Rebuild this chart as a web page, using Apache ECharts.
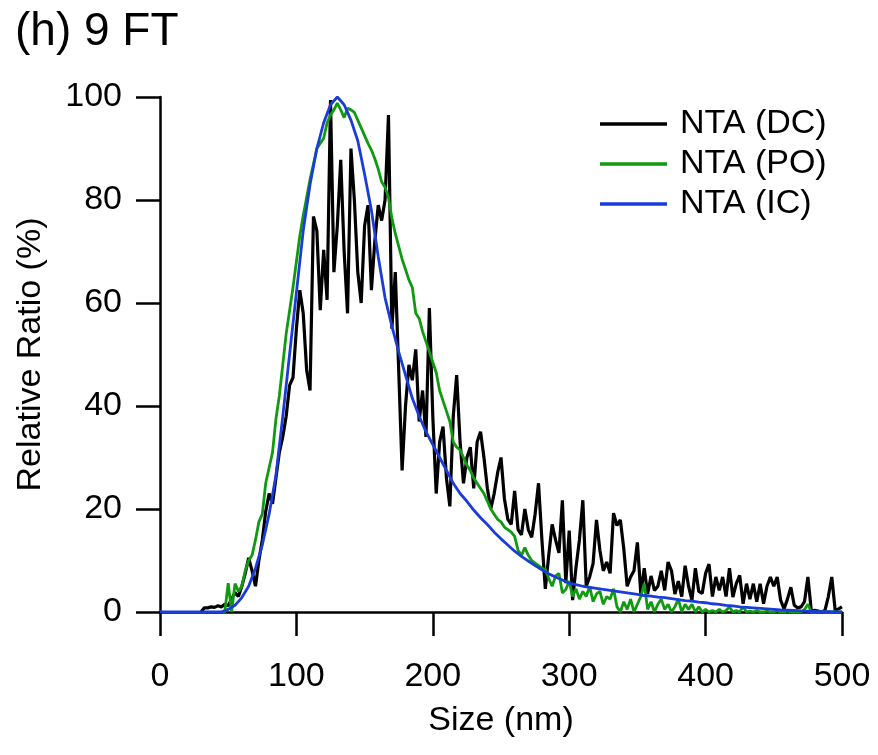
<!DOCTYPE html>
<html>
<head>
<meta charset="utf-8">
<script src="https://cdn.jsdelivr.net/npm/echarts@6/dist/echarts.min.js"></script>
<style>
  html, body { margin: 0; padding: 0; background: #fff; }
  #chart { width: 878px; height: 755px; }
</style>
</head>
<body>
<div id="chart"></div>
<script>
// x ticks / y ticks
const xTicks = [0, 100, 200, 300, 400, 500];
const yTicks = [0, 20, 40, 60, 80, 100];

// NTA (DC): bins of 2.5 nm starting at 30 nm
const dcStart = 30, dcStep = 2.5;
const dcValues = [
  0, 0.8, 0.8, 1.0, 0.9, 1.2, 1.0, 1.5, 1.2, 2.5,          // 30
  3.8, 3.0, 5.0, 7.5, 10.5, 8.0, 5.0, 10.0, 14.0, 19.5,    // 55
  23.0, 21.0, 26.0, 31.0, 34.0, 38.0, 44.0, 45.5, 55.0, 62.5, // 80
  58.0, 47.0, 43.0, 76.8, 74.0, 58.6, 70.3, 60.6, 99.4, 66.0, // 105
  75.0, 87.8, 70.0, 58.0, 90.0, 80.0, 66.0, 60.0, 75.0, 79.0, // 130
  62.5, 72.0, 79.0, 76.0, 80.0, 96.5, 55.0, 66.0, 47.0, 27.5, // 155
  40.0, 48.0, 45.0, 51.0, 37.0, 43.0, 34.0, 59.0, 38.0, 23.0, // 180
  33.0, 36.0, 26.0, 20.5, 38.0, 46.0, 33.0, 25.0, 30.0, 32.0, // 205
  24.0, 33.0, 35.0, 30.0, 24.0, 20.0, 23.0, 27.0, 30.0, 22.0, // 230
  18.0, 17.0, 23.5, 16.0, 15.0, 20.0, 16.0, 14.5, 19.0, 25.0, // 255
  14.0, 4.5, 11.0, 17.0, 14.0, 11.5, 21.7, 5.6, 15.8, 2.3,    // 280
  8.7, 14.0, 21.7, 5.0, 6.8, 9.4, 17.9, 12.0, 8.0, 9.7,       // 305
  7.5, 19.2, 16.8, 17.9, 12.3, 5.0, 6.8, 8.0, 13.5, 3.5,      // 330
  8.5, 3.5, 7.0, 4.2, 5.0, 8.0, 4.2, 9.7, 8.0, 3.5,           // 355
  6.0, 3.0, 9.0, 5.0, 2.3, 8.5, 4.0, 3.6, 7.5, 9.3,           // 380
  3.0, 6.8, 4.2, 6.8, 3.0, 8.5, 2.9, 5.5, 7.1, 1.6,           // 405
  5.5, 2.5, 5.5, 2.0, 5.5, 1.6, 5.0, 6.8, 5.0, 6.8,           // 430
  2.3, 0.6, 2.5, 4.8, 1.3, 0.8, 1.0, 2.0, 6.8, 0.2,           // 455
  0.3, 0.2, 0, 0.3, 3.0, 6.8, 0.3, 0.6, 1.0                   // 480
];

// NTA (PO): bins of 2.5 nm starting at 45 nm
const poStart = 45, poStep = 2.5;
const poValues = [
  0, 0, 5.6, 0, 5.5, 4, 5, 8, 10, 11,                       // 45
  14, 17.5, 19, 25, 28, 31, 37.5, 42, 48, 54,               // 70
  58.5, 63, 68, 73, 77, 80.5, 84, 87, 90, 91,               // 95
  92, 95, 96.5, 97.5, 98.8, 97.5, 96, 97.8, 97.5, 97,       // 120
  95.5, 94, 92.5, 91, 89.7, 88, 86, 83.5, 82.5, 80.5,       // 145
  76.5, 73.5, 71, 68.5, 66.5, 64.5, 63, 58, 57, 54.5,       // 170
  52.5, 50.5, 48.5, 46.5, 43, 41, 39, 37, 33, 32,           // 195
  31.5, 30, 28.5, 27.5, 26, 25, 24, 23, 21.5, 20,           // 220
  19, 18, 17.5, 16.5, 16, 15.5, 14.7, 12, 11, 12.5,         // 245
  11, 10, 9.5, 9, 8.5, 8.3, 6.5, 5, 7, 7.5,                 // 270
  3.7, 4.4, 6, 3, 4.5, 2.5, 4, 3, 5, 2,                     // 295
  3.5, 4, 1.5, 3, 2.5, 4.5, 1, 0, 2, 0.5,                   // 320
  2.5, 0, 1.5, 3, 5.5, 0.5, 2, 0, 1.5, 2.5,                 // 345
  0.5, 1.5, 0, 1, 2.5, 0, 1.5, 0.5, 1.5, 0,                 // 370
  1, 0, 0.5, 0, 0.3, 0, 0.5, 0, 0.3, 1,                     // 395
  0, 0.3, 0, 1, 0, 0.2, 0, 0.3, 0, 0,                       // 420
  0.2, 0, 0, 0.3, 0, 0, 0.2, 0, 0, 0,                       // 445
  0, 0.5, 1.5, 0, 0, 0, 0, 0, 0, 0,                         // 470
  0, 0, 0                                                   // 495
];

// NTA (IC): 5 nm steps starting at 0 nm
const icStart = 0, icStep = 5;
const icValues = [
  0, 0, 0, 0, 0, 0, 0, 0, 0, 0,                             // 0
  0.5, 1.3, 2.8, 5, 8.5, 13, 19, 26.5, 38, 50,              // 50
  62, 74, 83, 90, 95, 98.5, 100, 98.5, 95.5, 91.5,          // 100
  85, 78, 69, 61, 55.5, 50.5, 46, 41.5, 38, 35,             // 150
  32.5, 30, 27.5, 25, 23, 21.5, 19.8, 18.3, 17, 15.5,       // 200
  14.2, 13, 11.8, 10.8, 9.9, 9, 8.2, 7.4, 6.8, 6.2,         // 250
  5.6, 5.3, 5, 4.8, 4.6, 4.4, 4.2, 4, 3.8, 3.6,             // 300
  3.4, 3.2, 3.1, 2.9, 2.8, 2.6, 2.4, 2.2, 2.1, 1.9,         // 350
  1.8, 1.6, 1.5, 1.3, 1.2, 1.0, 0.9, 0.8, 0.7, 0.6,         // 400
  0.5, 0.4, 0.35, 0.3, 0.2, 0.15, 0.1, 0.05, 0.05, 0,       // 450
  0                                                         // 500
];

const seriesNames = ['NTA (DC)', 'NTA (PO)', 'NTA (IC)'];
const seriesColors = ['#000000', '#109a10', '#1a3cd8'];
const seriesWidths = [3.2, 2.8, 2.8];

function toPairs(start, step, values) {
  return values.map((v, i) => [start + i * step, v]);
}

const font = "'Liberation Sans', Arial, sans-serif";
const chart = echarts.init(document.getElementById('chart'));

const axisCommon = {
  axisLine: { show: true, lineStyle: { color: '#000', width: 2.5 } },
  axisTick: { show: true, inside: false, length: 24, lineStyle: { color: '#000', width: 2.5 } },
  splitLine: { show: false },
  nameTextStyle: { color: '#000', fontSize: 34, fontFamily: font },
  axisLabel: { color: '#000', fontSize: 34, fontFamily: font }
};

const option = {
  animation: false,
  backgroundColor: '#fff',
  title: {
    text: '(h) 9 FT',
    left: 10,
    top: 4,
    textStyle: { color: '#000', fontSize: 46, fontWeight: 'normal', fontFamily: font }
  },
  legend: {
    data: seriesNames,
    orient: 'vertical',
    left: 595,
    top: 102,
    icon: 'rect',
    itemWidth: 67,
    itemHeight: 3.5,
    itemGap: 6,
    textStyle: { color: '#000', fontSize: 34, fontFamily: font, padding: [0, 0, 0, 8] }
  },
  grid: { left: 160, right: 36, top: 97, bottom: 143, containLabel: false },
  xAxis: Object.assign({}, axisCommon, {
    type: 'value',
    min: xTicks[0],
    max: xTicks[xTicks.length - 1],
    interval: 100,
    name: 'Size (nm)',
    nameLocation: 'middle',
    nameGap: 92,
    axisLabel: Object.assign({}, axisCommon.axisLabel, { margin: 48 })
  }),
  yAxis: Object.assign({}, axisCommon, {
    type: 'value',
    min: yTicks[0],
    max: yTicks[yTicks.length - 1],
    interval: 20,
    name: 'Relative Ratio (%)',
    nameLocation: 'middle',
    nameGap: 112,
    axisLabel: Object.assign({}, axisCommon.axisLabel, { margin: 38 })
  }),
  series: [
    { start: dcStart, step: dcStep, values: dcValues },
    { start: poStart, step: poStep, values: poValues },
    { start: icStart, step: icStep, values: icValues }
  ].map((s, i) => ({
    name: seriesNames[i],
    type: 'line',
    data: toPairs(s.start, s.step, s.values),
    symbol: 'none',
    itemStyle: { color: seriesColors[i] },
    lineStyle: { color: seriesColors[i], width: seriesWidths[i] },
    z: 2 + i
  }))
};

chart.setOption(option);
</script>
</body>
</html>
